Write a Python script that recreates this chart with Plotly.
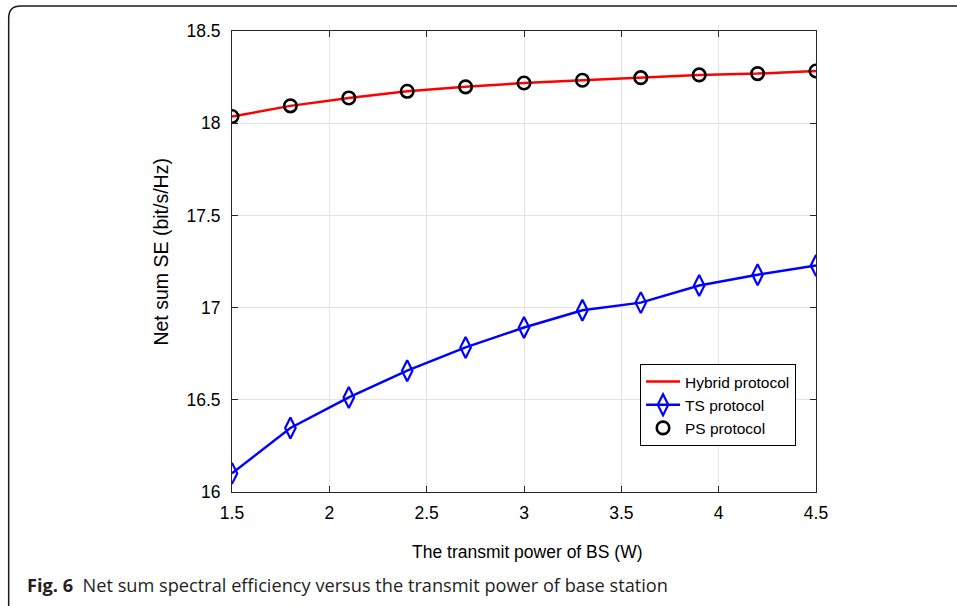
import plotly.graph_objects as go

power = [1.5, 1.8, 2.1, 2.4, 2.7, 3.0, 3.3, 3.6, 3.9, 4.2, 4.5]
hybrid = [18.036, 18.094, 18.137, 18.173, 18.197, 18.218, 18.233, 18.247, 18.262, 18.269, 18.283]
ts = [16.101, 16.347, 16.513, 16.658, 16.784, 16.892, 16.986, 17.027, 17.120, 17.178, 17.228]
ps = [18.036, 18.094, 18.137, 18.173, 18.197, 18.218, 18.233, 18.247, 18.262, 18.269, 18.283]
x_ticks = [1.5, 2, 2.5, 3, 3.5, 4, 4.5]
y_ticks = [16, 16.5, 17, 17.5, 18, 18.5]

W, H = 957, 606
L, R, T, B = 231.5, 816, 31, 492

def px(x):
    return (x - L) / (R - L)

def py(y):
    return (B - y) / (B - T)

fig = go.Figure()
fig.add_trace(go.Scatter(x=power, y=hybrid, mode="lines", name="Hybrid protocol",
                         line=dict(color="#ff0000", width=2.5)))
fig.add_trace(go.Scatter(x=power, y=ts, mode="lines+markers", name="TS protocol",
                         line=dict(color="#0000ff", width=2.5),
                         marker=dict(symbol="diamond-tall-open", size=15, color="#0000ff",
                                     line=dict(width=2.2, color="#0000ff"))))
fig.add_trace(go.Scatter(x=power, y=ps, mode="markers", name="PS protocol",
                         marker=dict(symbol="circle-open", size=12.5, color="#000000",
                                     line=dict(width=2.6, color="#000000"))))

axis_common = dict(showline=True, linecolor="#262626", linewidth=1, mirror="ticks",
                   ticks="inside", ticklen=6, tickcolor="#262626",
                   showgrid=True, gridcolor="#e3e3e3", gridwidth=1, zeroline=False,
                   tickfont=dict(family="Liberation Sans, Arial", size=17.5, color="#000"))

fig.update_xaxes(range=[1.5, 4.5], tickvals=x_ticks, ticktext=[f"{v:g}" for v in x_ticks],
                 ticklabelstandoff=5, **axis_common)
fig.update_yaxes(range=[16, 18.5], tickvals=y_ticks, ticktext=[f"{v:g}" for v in y_ticks],
                 ticklabelstandoff=7, **axis_common)

# rounded frame (left and top edges visible)
x0, y0, r = 8, 6, 12
frame = (f"M {px(x0)},{py(612)} L {px(x0)},{py(y0 + r)} "
         f"Q {px(x0)},{py(y0)} {px(x0 + r)},{py(y0)} L {px(970)},{py(y0)}")
fig.add_shape(type="path", xref="paper", yref="paper", path=frame,
              line=dict(color="#1a1a1a", width=1.5))

fig.add_annotation(x=px(527), xref="paper", y=py(552), yref="paper",
                   xanchor="center", yanchor="middle",
                   text="The transmit power of BS (W)", showarrow=False,
                   font=dict(family="Liberation Sans, Arial", size=17.5, color="#000"))
fig.add_annotation(x=px(160), xref="paper", y=py(252), yref="paper",
                   xanchor="center", yanchor="middle",
                   text="Net sum SE (bit/s/Hz)", showarrow=False, textangle=-90,
                   font=dict(family="Liberation Sans, Arial", size=19.5, color="#000"))
fig.add_annotation(x=px(24), xref="paper", y=py(585), yref="paper",
                   xanchor="left", yanchor="middle",
                   text="<b>Fig. 6</b>  Net sum spectral efficiency versus the transmit power of base station",
                   showarrow=False,
                   font=dict(family="Open Sans", size=18.2, color="#231f20"))

fig.update_layout(
    width=W, height=H,
    margin=dict(l=L, r=W - R, t=T, b=H - B),
    paper_bgcolor="white", plot_bgcolor="white",
    showlegend=True,
    legend=dict(x=px(796), y=py(364), xanchor="right", yanchor="top",
                bgcolor="white", bordercolor="#000", borderwidth=1,
                font=dict(family="Liberation Sans, Arial", size=15.5, color="#000"),
                tracegroupgap=0, itemwidth=34),
)

fig.write_html("out.html")
